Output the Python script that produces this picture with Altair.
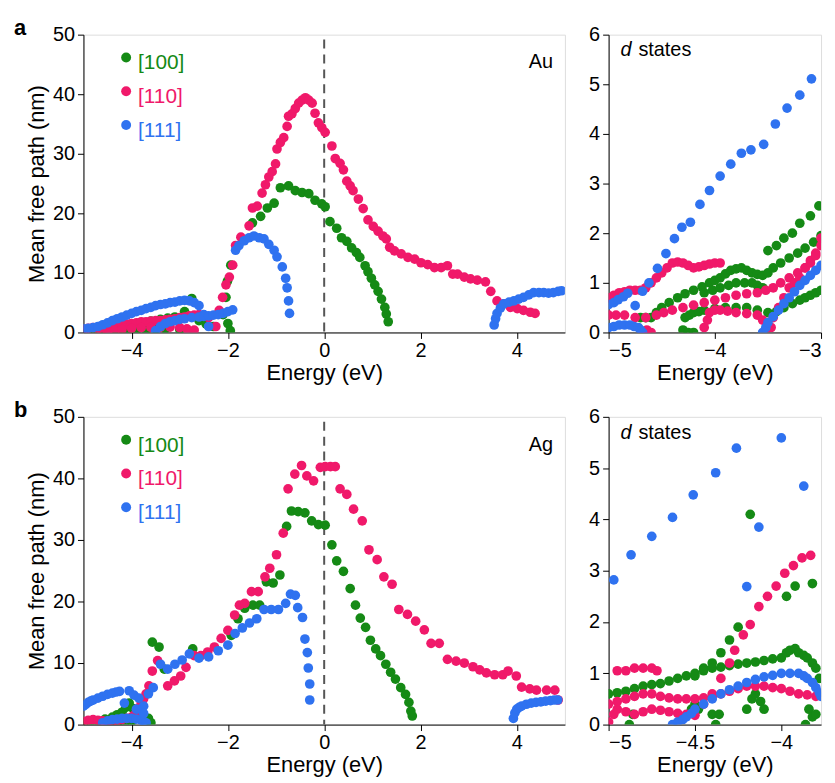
import altair as alt
import pandas as pd

GREEN = "#158a15"
PINK = "#f0196a"
BLUE = "#2f72f0"
FONT = "Liberation Sans"

# ---------- Au, full range ----------
au_100_e = [-5, -4.8, -4.6, -4.4, -4.2, -4.0, -3.8, -3.6, -3.4, -3.25, -3.1, -2.9, -2.75, -2.6, -2.45, -2.3, -2.1, -2.0, -1.95,
            -4.3, -4.1, -3.9, -3.7, -3.5, -3.3, -3.0,
            -2.04, -2.01, -1.94, -1.49, -1.32, -1.18, -1.04, -0.91, -0.74, -0.60, -0.46, -0.32, -0.19, -0.05, 0.02,
            0.12, 0.26, 0.36, 0.47, 0.57, 0.67, 0.74, 0.85, 0.91, 0.98, 1.05, 1.12, 1.19, 1.26, 1.29, 1.33]
au_100_y = [0.3, 0.4, 0.6, 0.9, 1.2, 1.4, 1.6, 1.9, 2.2, 2.4, 2.6, 3.5, 5.7, 2.0, 1.4, 1.0, 3.0, 1.5, 0.3,
            0.1, 0.2, 0.4, 0.5, 0.6, 0.6, 0.5,
            5.9, 8.6, 11.3, 18.4, 19.5, 20.9, 21.7, 24.3, 24.6, 23.8, 23.5, 23.3, 22.2, 21.6, 21.1,
            18.6, 17.5, 15.9, 15.3, 14.2, 13.4, 12.6, 11.2, 10.2, 9.1, 8.0, 6.9, 5.6, 4.2, 3.1, 1.8]
au_110_e = [-5, -4.9, -4.8, -4.7, -4.6, -4.5, -4.4, -4.3, -4.2, -4.1, -4.0, -3.9, -3.8, -3.7, -3.6, -3.5, -3.4, -3.3,
            -3.2, -3.1, -3.0, -2.9, -2.8, -2.7, -2.6, -2.5, -2.4,
            -4.5, -4.35, -4.2, -4.0, -3.8, -3.6, -3.4, -3.2, -3.0, -2.85, -2.7,
            -2.25, -2.18, -2.11, -2.04, -1.97, -1.90, -1.84, -1.73, -1.56, -1.49, -1.39, -1.29, -1.22, -1.15,
            -1.08, -1.01, -0.98, -0.91, -0.84, -0.77, -0.74, -0.67, -0.60, -0.53, -0.46, -0.39, -0.32, -0.25,
            -0.19, -0.12, -0.05, 0.02, 0.16, 0.23, 0.33, 0.40, 0.47, 0.54, 0.60, 0.71, 0.81, 0.91, 1.02, 1.12,
            1.22, 1.29, 1.36, 1.46, 1.60, 1.74, 1.88, 2.01, 2.15, 2.29, 2.43, 2.56, 2.67, 2.77, 2.91, 3.04,
            3.18, 3.35, 3.46, 3.59, 3.73, 3.87, 4.01, 4.14, 4.28, 4.38]
au_110_y = [0.5, 0.7, 0.8, 0.6, 0.5, 0.8, 1.0, 1.2, 1.3, 1.4, 1.5, 1.6, 1.8, 1.8, 1.9, 2.0, 2.0, 2.1,
            2.2, 2.3, 2.5, 2.6, 2.8, 2.9, 3.0, 2.8, 2.5,
            0.2, 0.3, 0.5, 0.7, 0.8, 0.85, 0.9, 0.9, 0.8, 0.6, 0.4,
            1.0, 3.7, 5.9, 8.0, 9.3, 11.3, 14.6, 16.0, 17.9, 20.9, 21.2, 23.4, 24.8, 26.1,
            27.0, 28.3, 30.8, 31.9, 32.7, 34.6, 36.3, 36.7, 37.6, 38.5, 39.0, 39.4, 39.0, 38.5,
            36.8, 35.2, 34.4, 33.6, 31.3, 29.2, 28.4, 27.3, 25.4, 24.6, 23.8, 22.4, 20.8, 18.9, 17.8, 17.0,
            16.2, 15.7, 14.3, 13.7, 13.2, 12.6, 12.3, 11.7, 11.4, 10.9, 10.9, 11.2, 9.8, 9.8, 9.3, 9.0,
            8.8, 8.5, 6.9, 5.3, 4.8, 4.2, 4.0, 3.7, 3.4, 3.2]
au_111_e = [-5, -4.9, -4.8, -4.7, -4.6, -4.5, -4.4, -4.3, -4.2, -4.1, -4.0, -3.9, -3.8, -3.7, -3.6, -3.5, -3.4, -3.3,
            -3.2, -3.1, -3.0, -2.9, -2.8, -2.7, -2.6, -2.5, -2.4,
            -3.5, -3.4, -3.3, -3.2, -3.1, -3.0, -2.9, -2.75, -2.6, -2.5, -2.4, -2.3, -2.2, -2.1, -2.0, -1.9,
            -1.84, -1.77, -1.66, -1.56, -1.46, -1.35, -1.25, -1.15, -1.04, -0.98, -0.87, -0.80, -0.77, -0.74, -0.72,
            3.53, 3.56, 3.59, 3.66, 3.73, 3.84, 3.94, 4.04, 4.14, 4.25, 4.35, 4.46, 4.56, 4.66, 4.76, 4.86, 4.93]
au_111_y = [0.6, 0.7, 0.8, 1.0, 1.3, 1.6, 2.0, 2.3, 2.6, 2.9, 3.2, 3.5, 3.7, 4.0, 4.2, 4.5, 4.7, 4.8,
            5.0, 5.1, 5.3, 5.4, 5.3, 5.0, 4.5, 3.0, 1.0,
            0.3, 1.0, 1.5, 1.8, 2.0, 2.2, 2.3, 2.5, 2.6, 2.7, 2.8, 2.9, 3.0, 3.2, 3.5, 3.8,
            13.8, 14.6, 15.4, 15.9, 16.2, 15.9, 15.7, 14.8, 13.8, 12.7, 11.0, 9.1, 7.5, 5.3, 3.2,
            1.25, 2.3, 3.2, 4.1, 4.8, 5.1, 5.3, 5.6, 5.9, 6.3, 6.7, 6.7, 6.7, 6.6, 6.7, 6.9, 7.0]

# ---------- Au, d states ----------
aud_100_e = [-3.5, -3.42, -3.35, -3.27, -3.2, -3.1, -3.02,
             -4.7, -4.65, -4.6, -4.55, -4.5, -4.43, -4.35, -4.28, -4.2, -4.12, -4.05, -4.0, -3.95, -3.9, -3.85,
             -3.8, -3.75, -3.7, -3.65, -3.6, -3.55, -3.5, -3.45, -3.38, -3.3, -3.22, -3.15, -3.07, -3.0,
             -4.1, -4.02, -3.95, -3.87, -3.8, -3.72, -3.65, -3.6, -3.55,
             -4.3, -4.28, -4.24, -4.2, -4.15, -4.1, -4.0, -3.9, -3.8, -3.7, -3.6, -3.5, -3.42, -3.35, -3.27,
             -3.2, -3.15, -3.1, -3.05, -3.0, -4.2, -4.25]
aud_100_y = [1.65, 1.75, 1.9, 2.0, 2.2, 2.35, 2.55,
             0.3, 0.3, 0.3, 0.4, 0.5, 0.6, 0.7, 0.78, 0.85, 0.92, 1.0, 1.05, 1.1, 1.18, 1.25,
             1.28, 1.3, 1.25, 1.2, 1.17, 1.15, 1.2, 1.3, 1.4, 1.5, 1.6, 1.7, 1.82, 1.95,
             0.8, 0.85, 0.9, 0.95, 1.0, 1.0, 1.0, 0.95, 0.9,
             0.05, 0.3, 0.35, 0.4, 0.42, 0.45, 0.48, 0.5, 0.5, 0.5, 0.45, 0.4, 0.42, 0.5, 0.58,
             0.65, 0.7, 0.75, 0.8, 0.85, 0.0, 0.0]
aud_110_e = [-5, -4.95, -4.9, -4.85, -4.8, -4.75, -4.7, -4.65, -4.6, -4.55, -4.5, -4.45, -4.4, -4.35, -4.3, -4.25,
             -4.2, -4.15, -4.1, -4.05, -4.0, -3.95,
             -5, -4.93, -4.85, -4.75, -4.65, -4.55, -4.48, -4.4, -4.3, -4.2, -4.1, -4.0, -3.9, -3.8, -3.7, -3.6,
             -3.52, -3.45, -3.38, -3.3, -3.22, -3.15, -3.1, -3.05, -3.0,
             -4.1, -4.07, -4.05, -4.0, -3.95, -3.88, -3.8, -3.7, -3.6, -3.55, -3.5,
             -3.47, -3.45, -3.4, -3.35, -3.3, -3.25, -3.2, -3.15, -3.1, -3.05, -3.0, -4.68, -4.64, -4.6]
aud_110_y = [0.7, 0.75, 0.8, 0.82, 0.85, 0.85, 0.85, 0.9, 1.0, 1.1, 1.2, 1.3, 1.4, 1.42, 1.4, 1.35,
             1.3, 1.32, 1.35, 1.38, 1.4, 1.4,
             0.35, 0.35, 0.35, 0.3, 0.3, 0.35, 0.4, 0.45, 0.5, 0.55, 0.6, 0.65, 0.7, 0.75, 0.78, 0.8,
             0.85, 0.9, 1.0, 1.1, 1.2, 1.3, 1.45, 1.6, 1.9,
             0.1, 0.25, 0.4, 0.45, 0.45, 0.43, 0.4, 0.38, 0.35, 0.25, 0.1,
             0.1, 0.3, 0.5, 0.7, 0.9, 1.0, 1.1, 1.3, 1.4, 1.55, 1.75, 0.0, 0.05, 0.0]
aud_111_e = [-5.0, -4.95, -4.91, -4.86, -4.82, -4.75, -4.68, -4.62, -4.54, -4.46, -4.38, -4.31, -4.23, -4.14, -4.05, -3.95,
             -3.85, -3.75, -3.66, -3.54, -3.43, -3.32, -3.20, -3.09,
             -5, -4.95, -4.9, -4.85, -4.8, -4.76, -4.72, -4.7, -4.68,
             -3.55, -3.52, -3.5, -3.45, -3.4, -3.35, -3.3, -3.25, -3.2, -3.15, -3.1, -3.05, -3.0]
aud_111_y = [0.56, 0.6, 0.66, 0.72, 0.79, 0.54, 0.83, 1.0, 1.29, 1.59, 1.89, 2.12, 2.22, 2.58, 2.86, 3.15,
             3.39, 3.61, 3.68, 3.79, 4.20, 4.52, 4.78, 5.11,
             0.1, 0.12, 0.15, 0.15, 0.15, 0.12, 0.1, 0.05, 0.0,
             0.0, 0.1, 0.2, 0.32, 0.45, 0.58, 0.7, 0.82, 0.95, 1.05, 1.15, 1.25, 1.35]

# ---------- Ag, full range ----------
ag_100_e = [-5, -4.85, -4.7, -4.55, -4.4, -4.3, -4.2, -4.12, -4.05, -3.97, -3.9, -3.82, -3.75, -3.65, -3.6,
            -4.0, -4.15, -4.3, -4.45,
            -3.57, -3.43, -3.32, -2.73, -1.93, -1.79, -1.65, -1.48, -1.34, -1.20, -1.06, -0.92, -0.78, -0.68,
            -0.54, -0.40, -0.26, -0.12, 0.02, 0.16, 0.26, 0.40, 0.54, 0.65, 0.75, 0.86, 0.96, 1.07, 1.17, 1.28,
            1.38, 1.48, 1.59, 1.69, 1.76, 1.80, 1.83]
ag_100_y = [0.3, 0.45, 0.6, 0.9, 1.2, 1.6, 2.0, 2.8, 3.5, 2.6, 2.0, 1.7, 1.5, 1.0, 0.3,
            0.5, 0.4, 0.2, 0.3,
            13.4, 12.6, 9.0, 12.3, 14.5, 17.2, 18.9, 19.4, 19.4, 23.2, 23.0, 24.3, 32.2, 34.7,
            34.6, 34.4, 33.1, 32.5, 32.4, 29.2, 26.6, 24.9, 22.1, 19.4, 17.3, 15.8, 13.7, 12.3, 11.2, 9.8,
            8.5, 7.4, 6.0, 4.9, 3.6, 2.2, 1.4]
ag_110_e = [-5, -4.9, -4.8, -4.7, -4.6, -4.5, -4.4, -4.3, -4.2, -4.1, -4.0, -3.95, -3.9, -3.85, -3.8, -3.75, -3.7,
            -3.64, -3.57, -3.46,
            -3.25, -3.11, -2.98, -2.87, -2.70, -2.56, -2.42, -2.28, -2.14, -2.00, -1.86, -1.76, -1.65, -1.51,
            -1.37, -1.23, -1.13, -0.99, -0.85, -0.75, -0.61, -0.47, -0.36, -0.22, -0.08, 0.02, 0.13, 0.23,
            0.33, 0.47, 0.61, 0.79, 0.93, 1.10, 1.24, 1.41, 1.55, 1.73, 1.90, 2.08, 2.22, 2.39, 2.56, 2.74,
            2.91, 3.09, 3.23, 3.37, 3.54, 3.71, 3.82, 3.99, 4.10, 4.27, 4.41, 4.62, 4.79, 4.86]
ag_110_y = [0.5, 0.7, 0.8, 0.7, 0.6, 0.5, 0.5, 0.6, 0.8, 1.0, 1.2, 1.5, 2.0, 2.7, 3.5, 4.2, 5.0,
            6.3, 8.7, 10.4,
            6.3, 7.1, 7.9, 9.3, 11.2, 11.2, 11.8, 12.6, 14.0, 15.3, 17.8, 19.4, 19.7, 21.6,
            21.6, 24.0, 25.4, 27.6, 31.1, 38.3, 40.7, 42.1, 40.4, 39.6, 41.8, 41.9, 41.9, 41.9,
            38.3, 37.4, 35.0, 33.1, 28.4, 26.8, 24.0, 22.8, 18.7, 17.9, 16.8, 15.4, 13.2, 13.2, 10.6, 10.3,
            10.0, 9.4, 8.9, 8.4, 8.1, 8.1, 8.7, 7.9, 6.1, 5.8, 5.6, 5.6, 5.6, 4.0]
ag_111_e = [-5, -4.95, -4.9, -4.85, -4.8, -4.7, -4.6, -4.5, -4.4, -4.32, -4.25, -4.15, -4.05, -3.95, -3.85, -3.75,
            -3.65, -3.55, -3.4, -3.25,
            -3.1, -2.95, -2.8, -2.6, -2.4, -2.2, -2.0, -1.85, -1.7, -1.55, -1.4, -1.25, -1.1, -0.95, -0.8,
            -0.7, -0.6, -0.55, -0.45, -0.4, -0.35, -0.33, -0.3, -0.3,
            -4.6, -4.5, -4.4, -4.3, -4.2, -4.1, -4.0, -3.9, -3.8, -3.75, -3.7, -3.75, -3.9,
            3.93, 3.96, 4.0, 4.05, 4.1, 4.2, 4.3, 4.4, 4.5, 4.6, 4.7, 4.78, 4.85]
ag_111_y = [3.0, 3.3, 3.6, 3.8, 4.0, 4.3, 4.6, 4.9, 5.1, 5.3, 5.4, 3.5, 5.5, 4.8, 4.3, 3.0,
            5.0, 6.0, 9.8, 9.0,
            9.8, 10.5, 11.5, 10.8, 11.0, 12.0, 12.9, 14.8, 15.7, 16.5, 17.2, 18.7, 18.7, 18.7, 19.7,
            21.2, 21.0, 19.0, 17.4, 13.9, 11.7, 9.2, 6.6, 4.0,
            0.3, 0.6, 0.8, 0.9, 1.0, 1.0, 1.0, 0.9, 0.7, 0.5, 0.3, 1.8, 2.5,
            1.0, 1.9, 2.5, 2.8, 3.0, 3.3, 3.5, 3.6, 3.7, 3.8, 3.9, 4.0, 4.0]

# ---------- Ag, d states ----------
agd_100_e = [-4.18, -4.25, -4.3, -4.35, -4.4, -4.45, -4.5, -3.97, -3.92, -3.82,
             -5, -4.95, -4.9, -4.85, -4.8, -4.75, -4.7, -4.65, -4.6, -4.55, -4.5, -4.45, -4.4, -4.35, -4.3, -4.25,
             -4.2, -4.15, -4.1, -4.05, -4.0, -3.97, -3.95, -3.92, -3.9, -3.87, -3.85, -3.82, -3.8, -3.78,
             -4.88, -4.86, -4.52, -4.5, -4.48, -4.4, -4.38, -4.36, -4.2, -4.17, -4.15, -4.12, -4.1, -3.86,
             -3.84, -3.82, -3.8]
agd_100_y = [4.1, 1.9, 1.65, 1.4, 1.2, 1.1, 0.95, 2.5, 2.7, 2.75,
             0.6, 0.62, 0.65, 0.7, 0.75, 0.78, 0.8, 0.85, 0.9, 0.95, 1.0, 1.05, 1.1, 1.12, 1.15, 1.18,
             1.2, 1.22, 1.25, 1.28, 1.3, 1.4, 1.45, 1.48, 1.4, 1.35, 1.3, 1.2, 1.1, 0.9,
             0.0, 0.2, 0.3, 0.4, 0.3, 0.2, 0.0, 0.2, 0.3, 0.5, 0.6, 0.45, 0.3, 0.0,
             0.3, 0.15, 0.2]
agd_110_e = [-4.95, -4.9, -4.85, -4.8, -4.75, -4.72,
             -4.45, -4.4, -4.35, -4.3, -4.27, -4.22, -4.18, -4.13, -4.08, -4.03, -3.98, -3.93, -3.88, -3.83,
             -5, -4.95, -4.9, -4.85, -4.8, -4.75, -4.7, -4.65, -4.6, -4.55, -4.5, -4.45, -4.4, -4.35, -4.3,
             -4.25, -4.2, -4.15, -4.1, -4.05, -4.0, -3.95, -3.9, -3.85, -3.8,
             -5, -4.97, -4.95, -4.9, -4.85, -4.8, -4.75, -4.7, -4.65, -4.6, -4.55, -4.5]
agd_110_y = [1.05, 1.05, 1.1, 1.1, 1.1, 1.05,
             0.4, 0.6, 0.9, 1.2, 1.45, 1.75, 1.95, 2.3, 2.5, 2.7, 2.95, 3.1, 3.25, 3.3,
             0.4, 0.45, 0.5, 0.55, 0.6, 0.6, 0.55, 0.52, 0.5, 0.5, 0.5, 0.52, 0.55, 0.6, 0.65,
             0.7, 0.75, 0.75, 0.75, 0.72, 0.7, 0.65, 0.6, 0.58, 0.55,
             0.05, 0.2, 0.3, 0.25, 0.2, 0.25, 0.3, 0.28, 0.25, 0.22, 0.2, 0.18]
agd_111_e = [-4.97, -4.87, -4.75, -4.63, -4.51, -4.38, -4.26, -4.0, -3.87, -4.13, -4.20,
             -4.63, -4.6, -4.57, -4.55, -4.52, -4.5, -4.45, -4.4, -4.35, -4.3, -4.25, -4.2, -4.15, -4.1, -4.05,
             -4.0, -3.95, -3.9, -3.87, -3.85, -3.82, -3.8, -3.78, -3.77]
agd_111_y = [2.82, 3.31, 3.67, 4.04, 4.48, 4.91, 5.39, 5.59, 4.65, 3.85, 2.69,
             0.0, 0.05, 0.1, 0.15, 0.22, 0.3, 0.4, 0.5, 0.6, 0.68, 0.75, 0.82, 0.88, 0.93, 0.96,
             1.0, 1.0, 1.0, 0.95, 0.9, 0.82, 0.72, 0.62, 0.55]

SERIES = ["[100]", "[110]", "[111]"]


def frame(sets):
    rows = []
    for name, (es, ys) in zip(SERIES, sets):
        rows += [{"E": e, "y": y, "s": name} for e, y in zip(es, ys)]
    return pd.DataFrame(rows)


color = alt.Color("s:N", scale=alt.Scale(domain=SERIES, range=[GREEN, PINK, BLUE]), legend=None)
minus = "replace(format(datum.value, '~g'), '-', '\u2212')"
LBL = 20
TTL = 22


def panel(df, w, h, xdom, xticks, ydom, yticks, ytitle, letter, big):
    common = dict(grid=False, tickSize=6, labelFontSize=LBL, titleFontSize=TTL, titleFontWeight="normal",
                  labelColor="black", titleColor="black", domainColor="black", tickColor="black",
                  labelFont=FONT, titleFont=FONT)
    xax = alt.Axis(values=xticks, title="Energy (eV)", labelExpr=minus, titlePadding=2, **common)
    yax = alt.Axis(values=yticks, labelPadding=3, title=ytitle if ytitle else None, **common)
    pts = alt.Chart(df).mark_circle(size=95, opacity=1, clip=True).encode(
        x=alt.X("E:Q", scale=alt.Scale(domain=xdom, nice=False, zero=False), axis=xax),
        y=alt.Y("y:Q", scale=alt.Scale(domain=ydom, nice=False), axis=yax),
        color=color,
    )
    layers = []
    if big:
        rule = alt.Chart(pd.DataFrame({"E": [0]})).mark_rule(color="#555555", strokeDash=[9, 6], strokeWidth=2).encode(
            x="E:Q", y=alt.value(5), y2=alt.value(h))
        layers.append(rule)
    layers.append(pts)
    if big:
        for i, (name, col) in enumerate(zip(SERIES, [GREEN, PINK, BLUE])):
            layers.append(alt.Chart(pd.DataFrame({"t": [name]})).mark_circle(size=100, color=col, opacity=1).encode(
                x=alt.value(43), y=alt.value(23 + 34 * i)))
            layers.append(alt.Chart(pd.DataFrame({"t": [name]})).mark_text(
                color=col, fontSize=21, font=FONT, align="left", baseline="middle").encode(
                x=alt.value(55), y=alt.value(29 + 34 * i), text="t:N"))
        layers.append(alt.Chart(pd.DataFrame({"t": [big]})).mark_text(
            fontSize=20, font=FONT, align="right", baseline="middle", color="black").encode(
            x=alt.value(w - 12), y=alt.value(28), text="t:N"))
        layers.append(alt.Chart(pd.DataFrame({"t": [letter]})).mark_text(
            fontSize=22, font=FONT, fontWeight="bold", align="left", baseline="middle", color="black").encode(
            x=alt.value(-70), y=alt.value(-7), text="t:N"))
    else:
        layers.append(alt.Chart(pd.DataFrame({"t": ["d"]})).mark_text(
            fontSize=20, font=FONT, fontStyle="italic", align="left", baseline="middle", color="black").encode(
            x=alt.value(12), y=alt.value(16), text="t:N"))
        layers.append(alt.Chart(pd.DataFrame({"t": ["states"]})).mark_text(
            fontSize=20, font=FONT, align="left", baseline="middle", color="black").encode(
            x=alt.value(30), y=alt.value(16), text="t:N"))
    return alt.layer(*layers).properties(width=w, height=h)


au = panel(frame([(au_100_e, au_100_y), (au_110_e, au_110_y), (au_111_e, au_111_y)]), 485, 300,
           [-5, 5], [-4, -2, 0, 2, 4], [0, 50], [0, 10, 20, 30, 40, 50], "Mean free path (nm)", "a", "Au")
aud = panel(frame([(aud_100_e, aud_100_y), (aud_110_e, aud_110_y), (aud_111_e, aud_111_y)]), 214, 300,
            [-5, -3], [-5, -4, -3], [0, 6], [0, 1, 2, 3, 4, 5, 6], None, None, None)
ag = panel(frame([(ag_100_e, ag_100_y), (ag_110_e, ag_110_y), (ag_111_e, ag_111_y)]), 485, 310,
           [-5, 5], [-4, -2, 0, 2, 4], [0, 50], [0, 10, 20, 30, 40, 50], "Mean free path (nm)", "b", "Ag")
agd = panel(frame([(agd_100_e, agd_100_y), (agd_110_e, agd_110_y), (agd_111_e, agd_111_y)]), 214, 310,
            [-5, -3.77], [-5, -4.5, -4], [0, 6], [0, 1, 2, 3, 4, 5, 6], None, None, None)

chart = alt.vconcat(
    alt.hconcat(au, aud, spacing=22),
    alt.hconcat(ag, agd, spacing=22),
    spacing=14,
).configure_view(stroke="black", strokeWidth=1.2).configure(background="white")

chart.save("out.html", embed_options={"renderer": "svg", "actions": False})
